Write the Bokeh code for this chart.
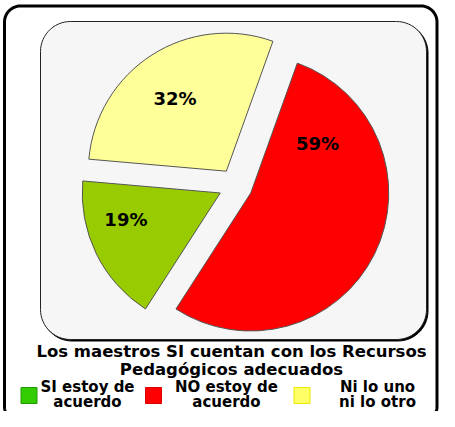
import numpy as np
from bokeh.plotting import figure
from bokeh.models import Range1d, ColumnDataSource
from bokeh.core.properties import value
from bokeh.embed import file_html
from bokeh.resources import INLINE

# ---- data ----
categories = ["SI estoy de acuerdo", "NO estoy de acuerdo", "Ni lo uno ni lo otro"]
legend_lines = [["SI estoy de", "acuerdo"], ["NO estoy de", "acuerdo"], ["Ni lo uno", "ni lo otro"]]
values = [19, 59, 32]
slice_colors = ["#99CC00", "#FF0000", "#FFFF99"]
legend_colors = ["#33CC00", "#FF0000", "#FFFF66"]
legend_borders = ["#229900", "#DD0000", "#E8E800"]
title_lines = ["Los maestros SI cuentan con los Recursos", "Pedagógicos adecuados"]

# ---- layout (picture pixel coords, y down) ----
CX, CY, R, EXPLODE = 235.0, 185.0, 138.0, 17.0
START_DEG = 175.0  # math angle, anticlockwise
label_adjust_deg = [-10.4, 62.6, 2.6]
label_rfrac = [0.71, 0.60, 0.645]
FONT = "DejaVu Sans"

W, H = 439, 411
p = figure(width=W, height=H, x_range=Range1d(0, W), y_range=Range1d(-H, 0),
           output_backend="svg", toolbar_location=None, min_border=0,
           x_axis_location=None, y_axis_location=None,
           background_fill_color="white", border_fill_color="white")
p.outline_line_color = None
p.grid.grid_line_color = None


def rrect(x0, y0, x1, y1, r, n=16):
    top, bot = -y0, -y1
    xs, ys = [], []
    for (cx, cy, a0) in [(x1 - r, top - r, 0), (x0 + r, top - r, 90),
                         (x0 + r, bot + r, 180), (x1 - r, bot + r, 270)]:
        for t in np.linspace(np.radians(a0), np.radians(a0 + 90), n):
            xs.append(cx + r * np.cos(t))
            ys.append(cy + r * np.sin(t))
    return xs, ys


# outer frame (bottom runs just past the picture edge)
ox, oy = rrect(4, 5.5, 436.5, 422, 16)
p.patch(ox, oy, fill_color="white", line_color="black", line_width=3)

# inner plot area with slight shadow
sx, sy = rrect(41.5, 22.5, 427.5, 340.5, 30)
p.patch(sx, sy, fill_color="black", line_color="black", line_width=1)
ix, iy = rrect(40, 21, 426, 339, 30)
p.patch(ix, iy, fill_color="#F6F6F6", line_color="#222222", line_width=1)

# pie
vals = np.array(values, dtype=float)
spans = vals / vals.sum() * 360.0
starts = START_DEG + np.concatenate([[0], np.cumsum(spans)[:-1]])
ends = starts + spans
mids = np.radians((starts + ends) / 2)
xs = CX + EXPLODE * np.cos(mids)
ys = -CY + EXPLODE * np.sin(mids)
src = ColumnDataSource(dict(x=xs, y=ys, start=np.radians(starts), end=np.radians(ends),
                            color=slice_colors, cat=categories))
p.wedge(x="x", y="y", radius=R, start_angle="start", end_angle="end",
        fill_color="color", line_color="#555555", line_width=1, source=src)

la = mids + np.radians(label_adjust_deg)
lx = xs + np.array(label_rfrac) * R * np.cos(la)
ly = ys + np.array(label_rfrac) * R * np.sin(la)
p.text(x=lx, y=ly, text=[f"{v}%" for v in values], text_align="center",
       text_baseline="middle", text_font=value(FONT), text_font_style="bold",
       text_font_size="18px", text_color="black")

# legend title
for i, line in enumerate(title_lines):
    p.text(x=[231], y=[-(351 + 18 * i)], text=[line], text_align="center",
           text_baseline="middle", text_font=value(FONT), text_font_style="bold",
           text_font_size="16.5px", text_color="black")

# legend entries
sq_x = [28.5, 153, 301.5]
txt_x = [87, 226, 377]
SQ_Y = 395
p.rect(x=sq_x, y=[-SQ_Y] * 3, width=16, height=16, fill_color=legend_colors,
       line_color=legend_borders, line_width=1)
for k in range(3):
    for j, line in enumerate(legend_lines[k]):
        p.text(x=[txt_x[k]], y=[-(386 + 15 * j)], text=[line], text_align="center",
               text_baseline="middle", text_font=value(FONT), text_font_style="bold",
               text_font_size="15px", text_color="black")

open("out.html", "w").write(file_html(p, INLINE))
